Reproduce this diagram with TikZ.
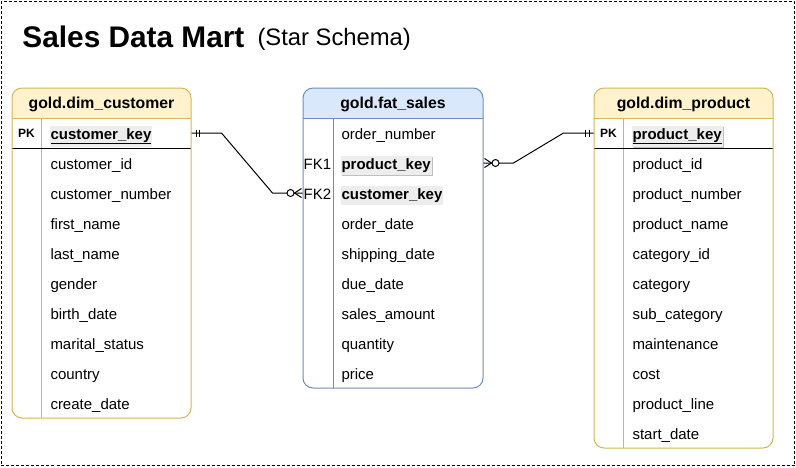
\documentclass[tikz,border=0pt]{standalone}
\usepackage{fontspec}
\setmainfont{Liberation Sans}
\usetikzlibrary{shadows}
\definecolor{yfill}{HTML}{FFF2CC}
\definecolor{ydraw}{HTML}{D6B656}
\definecolor{bfill}{HTML}{DAE8FC}
\definecolor{bdraw}{HTML}{6C8EBF}
\begin{document}
\begin{tikzpicture}[x=1pt,y=-1pt,line width=1pt,
  fld/.style={anchor=base west, inner sep=0pt, font=\fontsize{15}{18}\selectfont},
  keyfld/.style={anchor=base west, inner xsep=1pt, inner ysep=2.5pt, fill=black!7, font=\fontsize{15}{18}\selectfont\bfseries},
  keyshadow/.style={drop shadow={shadow xshift=1pt, shadow yshift=-1.5pt, opacity=0.25, fill=black}},
  hdr/.style={anchor=base, inner sep=0pt, font=\fontsize{15.8}{18}\selectfont\bfseries},
  pklabel/.style={inner sep=0pt, font=\fontsize{12}{14}\selectfont\bfseries},
  fklabel/.style={anchor=base, inner sep=0pt, font=\fontsize{15}{18}\selectfont},
  rowarea/.style={inner sep=0pt, minimum height=30pt},
  tblbody/.style={rounded corners=10pt, fill=white},
  conn/.style={black, line width=1pt},
  ermark/.style={black, line width=1pt}
]
\useasboundingbox (0,0) rectangle (796,467);
\draw[line width=1pt, dash pattern=on 3pt off 2pt] (1,1) rectangle (794.5,465.5);

% title
\node[anchor=base west, inner sep=0pt, font=\fontsize{29.8}{34}\selectfont\bfseries] (title) at (22,47) {Sales Data Mart};
\node[anchor=base west, inner sep=0pt, font=\fontsize{23.8}{26}\selectfont] (subtitle) at (257,45.5) {(Star Schema)};

% ---------- left table: gold.dim_customer ----------
\path[tblbody] (12,88) rectangle (191,418);
\fill[yfill] (12,118) {[rounded corners=10pt] -- (12,88) -- (191,88)} -- (191,118) -- cycle;
\draw[ydraw] (12,118) -- (191,118);
\draw[ydraw] (41.5,118) -- (41.5,418);
\draw[black] (12,148) -- (191,148);
\draw[ydraw, rounded corners=10pt] (12,88) rectangle (191,418);
\node[hdr] (c-hdr) at (101.5,108.8) {gold.dim\_customer};
\node[rowarea, minimum width=179pt] (c-ck) at (101.5,133) {};
\node[pklabel] (c-pk) at (26.5,133.5) {PK};
\node[keyfld] (c-kt) at (49,139) {\underline{customer\_key}};
\foreach \t [count=\i] in {customer\_id, customer\_number, first\_name, last\_name, gender, birth\_date, marital\_status, country, create\_date}
  \node[fld] (c-r\i) at (50,{139+30*\i}) {\t};

% ---------- middle table: gold.fat_sales ----------
\path[tblbody] (303,88) rectangle (483,388);
\fill[bfill] (303,118) {[rounded corners=10pt] -- (303,88) -- (483,88)} -- (483,118) -- cycle;
\draw[bdraw] (303,118) -- (483,118);
\draw[bdraw] (333,118) -- (333,388);
\draw[bdraw, rounded corners=10pt] (303,88) rectangle (483,388);
\node[hdr] (f-hdr) at (393,108.8) {gold.fat\_sales};
\node[rowarea, minimum width=180pt] (f-pk) at (393,163) {};
\node[rowarea, minimum width=180pt] (f-ck) at (393,193) {};
\node[fld] (f-on) at (341,139) {order\_number};
\node[fklabel] (f-fk1) at (317.5,169) {FK1};
\node[fklabel] (f-fk2) at (317.5,199) {FK2};
\node[keyfld, keyshadow] (f-pkt) at (340,169) {product\_key};
\node[keyfld] (f-ckt) at (340,199) {customer\_key};
\foreach \t [count=\i] in {order\_date, shipping\_date, due\_date, sales\_amount, quantity, price}
  \node[fld] (f-r\i) at (341,{199+30*\i}) {\t};

% ---------- right table: gold.dim_product ----------
\path[tblbody] (594,88) rectangle (773,448);
\fill[yfill] (594,118) {[rounded corners=10pt] -- (594,88) -- (773,88)} -- (773,118) -- cycle;
\draw[ydraw] (594,118) -- (773,118);
\draw[ydraw] (623.5,118) -- (623.5,448);
\draw[black] (594,148) -- (773,148);
\draw[ydraw, rounded corners=10pt] (594,88) rectangle (773,448);
\node[hdr] (p-hdr) at (683.5,108.8) {gold.dim\_product};
\node[rowarea, minimum width=179pt] (p-pk) at (683.5,133) {};
\node[pklabel] (p-pkl) at (608.5,133.5) {PK};
\node[keyfld, keyshadow] (p-kt) at (631,139) {\underline{product\_key}};
\foreach \t [count=\i] in {product\_id, product\_number, product\_name, category\_id, category, sub\_category, maintenance, cost, product\_line, start\_date}
  \node[fld] (p-r\i) at (632,{139+30*\i}) {\t};

% ---------- connectors ----------
% customer_key (dim_customer) -> customer_key (fat_sales)
\draw[conn] (c-ck.east) -- ([xshift=30pt]c-ck.east) -- ([xshift=-30pt]f-ck.west) -- (f-ck.west);
\draw[ermark] ([xshift=4.5pt,yshift=3.5pt]c-ck.east) -- ([xshift=4.5pt,yshift=-3.5pt]c-ck.east);
\draw[ermark] ([xshift=8pt,yshift=3.5pt]c-ck.east) -- ([xshift=8pt,yshift=-3.5pt]c-ck.east);
\draw[ermark] ([xshift=-1pt,yshift=4.5pt]f-ck.west) -- ([xshift=-8pt]f-ck.west) -- ([xshift=-1pt,yshift=-4.5pt]f-ck.west);
\draw[ermark, fill=white] ([xshift=-12pt]f-ck.west) circle (3.5pt);

% product_key (fat_sales) -> product_key (dim_product)
\draw[conn] (f-pk.east) -- ([xshift=30pt]f-pk.east) -- ([xshift=-30pt]p-pk.west) -- (p-pk.west);
\draw[ermark] ([xshift=1pt,yshift=4.5pt]f-pk.east) -- ([xshift=8pt]f-pk.east) -- ([xshift=1pt,yshift=-4.5pt]f-pk.east);
\draw[ermark, fill=white] ([xshift=12pt]f-pk.east) circle (3.5pt);
\draw[ermark] ([xshift=-4.5pt,yshift=3.5pt]p-pk.west) -- ([xshift=-4.5pt,yshift=-3.5pt]p-pk.west);
\draw[ermark] ([xshift=-8pt,yshift=3.5pt]p-pk.west) -- ([xshift=-8pt,yshift=-3.5pt]p-pk.west);
\end{tikzpicture}
\end{document}
